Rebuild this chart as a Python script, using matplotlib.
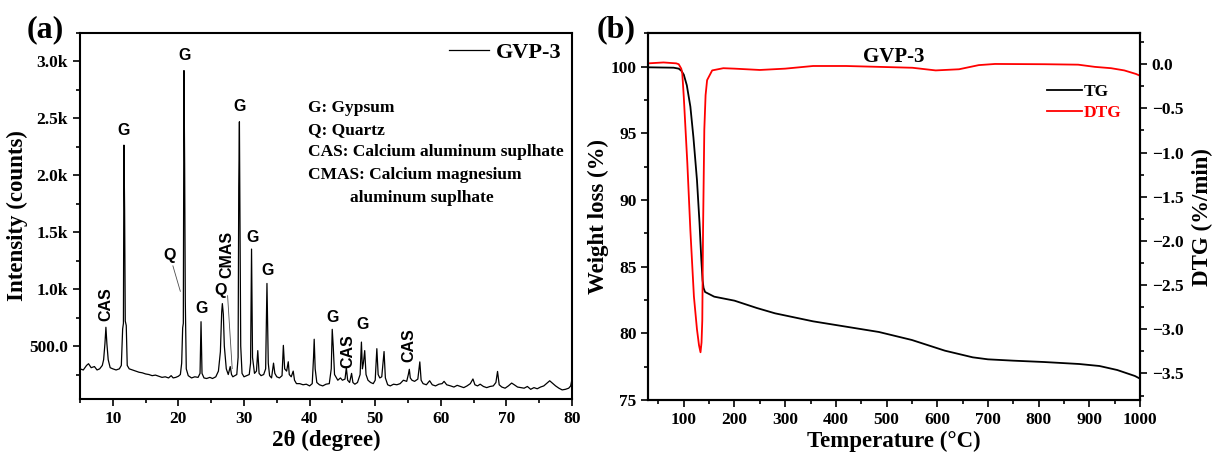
import matplotlib
matplotlib.use('Agg')
import matplotlib.pyplot as plt
from matplotlib.ticker import MultipleLocator, FuncFormatter

plt.rcParams['font.family'] = ['Liberation Serif', 'DejaVu Serif']
plt.rcParams['font.weight'] = 'bold'
plt.rcParams['mathtext.default'] = 'regular'

# XRD pattern of GVP-3 (2theta in degree, intensity in counts)
two_theta = [5.0, 5.5, 6.0, 6.3, 6.7, 7.2, 7.6, 8.0, 8.4, 8.6, 8.8, 8.95, 9.1, 9.3, 9.6,
             10.0, 10.5, 11.0, 11.3, 11.5, 11.62, 11.7, 11.8, 11.9, 12.05, 12.2, 12.5,
             13.0, 13.5, 14.0, 14.5, 15.0, 15.5, 16.0, 16.5, 17.0, 17.5, 18.0, 18.5,
             18.9, 19.2, 19.6, 20.0, 20.3, 20.5, 20.65, 20.75, 20.85, 20.95, 21.05, 21.2,
             21.5, 22.0, 22.5, 23.0, 23.3, 23.45, 23.6, 23.9, 24.3, 24.8, 25.2, 25.7,
             26.1, 26.4, 26.6, 26.7, 26.85, 27.0, 27.3, 27.6, 27.9, 28.1, 28.3, 28.6,
             28.9, 29.1, 29.2, 29.3, 29.4, 29.5, 29.7, 30.0, 30.4, 30.8, 31.0, 31.15,
             31.3, 31.6, 31.9, 32.1, 32.3, 32.6, 33.0, 33.3, 33.5, 33.7, 33.9, 34.2,
             34.5, 34.7, 35.0, 35.4, 35.8, 36.0, 36.2, 36.5, 36.75, 36.9, 37.2, 37.5,
             37.7, 38.0, 38.5, 39.0, 39.5, 40.0, 40.4, 40.6, 40.7, 40.85, 41.1, 41.5,
             42.0, 42.5, 43.0, 43.3, 43.45, 43.6, 43.8, 44.0, 44.3, 44.7, 45.0, 45.4,
             45.6, 45.8, 46.1, 46.4, 46.6, 46.9, 47.3, 47.7, 47.9, 48.05, 48.2, 48.4,
             48.6, 48.9, 49.3, 49.7, 50.0, 50.25, 50.45, 50.7, 51.0, 51.35, 51.55, 51.9,
             52.3, 52.8, 53.3, 53.8, 54.3, 54.8, 55.05, 55.2, 55.35, 55.6, 56.0, 56.5,
             56.8, 57.0, 57.3, 57.8, 58.3, 58.7, 59.2, 59.7, 60.2, 60.5, 60.9, 61.5,
             62.0, 62.5, 63.0, 63.5, 64.0, 64.5, 64.9, 65.2, 65.6, 66.0, 66.5, 67.0,
             67.5, 68.0, 68.4, 68.65, 68.9, 69.3, 69.8, 70.3, 70.8, 71.2, 71.7, 72.2,
             72.7, 73.2, 73.7, 74.2, 74.7, 75.2, 75.7, 76.2, 76.6, 77.0, 77.5, 78.0,
             78.5, 79.0, 79.5, 79.8, 80.0]
counts = [300, 290, 330, 345, 310, 320, 290, 300, 330, 380, 520, 665, 520, 380, 310,
          300, 290, 300, 330, 650, 700, 2265, 1700, 720, 680, 330, 300,
          290, 280, 270, 265, 255, 250, 240, 245, 235, 225, 230, 220,
          240, 220, 225, 235, 250, 350, 660, 700, 2920, 2100, 900, 300,
          240, 220, 230, 225, 260, 714, 260, 220, 215, 225, 215, 230,
          280, 450, 800, 873, 780, 500, 300, 250, 320, 250, 230, 240,
          250, 400, 1900, 2470, 1500, 500, 260, 230, 240, 250, 350, 1352,
          400, 260, 280, 460, 260, 240, 250, 300, 1050, 350, 240, 220,
          350, 260, 230, 220, 240, 506, 300, 280, 362, 250, 230, 280,
          200, 170, 170, 160, 165, 150, 170, 400, 560, 300, 180, 160,
          150, 165, 170, 300, 647, 500, 250, 230, 200, 220, 200, 210,
          310, 200, 180, 260, 180, 165, 180, 250, 535, 300, 350, 460,
          250, 200, 180, 170, 200, 477, 250, 220, 230, 452, 220, 160,
          150, 165, 160, 170, 200, 190, 250, 296, 220, 200, 190, 210,
          361, 200, 170, 160, 195, 160, 150, 165, 170, 190, 160, 150,
          140, 155, 145, 135, 150, 170, 211, 160, 150, 165, 145, 135,
          145, 150, 180, 277, 160, 140, 130, 150, 175, 160, 140, 135,
          130, 145, 120, 135, 125, 140, 150, 175, 195, 175, 150, 130,
          115, 120, 130, 150, 210]

# phase labels: text, 2theta, counts (bottom of label), rotation
peak_labels = [('CAS', 8.9, 720, 90), ('G', 11.7, 2330, 0), ('G', 20.95, 2990, 0),
               ('G', 23.5, 760, 0), ('Q', 26.5, 920, 0), ('CMAS', 27.35, 1100, 90),
               ('G', 29.37, 2540, 0), ('G', 31.25, 1392, 0), ('G', 33.6, 1097, 0),
               ('G', 43.5, 685, 0), ('CAS', 45.8, 305, 90), ('G', 48.1, 620, 0),
               ('CAS', 55.1, 360, 90)]
phase_notes = ['G: Gypsum', 'Q: Quartz', 'CAS: Calcium aluminum suplhate',
               'CMAS: Calcium magnesium', 'aluminum suplhate']

# TG / DTG of GVP-3
tg_temp = [30, 80, 90, 95, 100, 106, 113, 119, 126, 131, 134.5, 137, 139, 142, 160, 200,
           244, 280, 330, 355, 420, 485, 550, 615, 670, 700, 750, 810, 880, 920, 955,
           990, 1000]
tg_weight = [99.95, 99.92, 99.85, 99.7, 99.4, 98.6, 97.0, 94.7, 91.5, 88.3, 85.6, 84.0,
             83.4, 83.1, 82.75, 82.45, 81.9, 81.5, 81.1, 80.9, 80.5, 80.1, 79.5, 78.7,
             78.2, 78.05, 77.95, 77.85, 77.7, 77.55, 77.25, 76.8, 76.6]
dtg_temp = [30, 60, 85, 90, 95, 97, 100, 107, 113, 120, 126, 130, 133, 135, 136.5, 138,
            140.5, 143, 146, 156, 178, 200, 250, 300, 355, 420, 486, 551, 597, 643, 682,
            714, 812, 878, 911, 943, 969, 992, 1000]
dtg_rate = [0.01, 0.02, 0.01, 0.0, -0.05, -0.10, -0.37, -1.12, -1.88, -2.63, -3.0, -3.18,
            -3.26, -3.15, -2.9, -1.88, -0.74, -0.35, -0.18, -0.07, -0.045, -0.05, -0.065,
            -0.05, -0.02, -0.02, -0.03, -0.04, -0.07, -0.057, -0.01, 0.003, 0.0, -0.005,
            -0.03, -0.045, -0.07, -0.11, -0.13]

W, H = 1214, 457
fig = plt.figure(figsize=(W / 100, H / 100), dpi=100)
ax1 = fig.add_axes([80 / W, (H - 399) / H, 492 / W, 366 / H])
ax2 = fig.add_axes([648.3 / W, (H - 400) / H, 491.7 / W, 366.7 / H])


def style_axis(ax):
    for sp in ax.spines.values():
        sp.set_linewidth(1.5)
    ax.tick_params(which='both', direction='out', width=1.2, labelsize=12.5)
    ax.tick_params(which='major', length=5)
    ax.tick_params(which='minor', length=3)
    for lab in ax.get_xticklabels() + ax.get_yticklabels():
        lab.set_fontweight('bold')


# ---- (a) XRD ----
ax1.plot(two_theta, counts, color='black', lw=0.9, label='GVP-3')
ax1.set_xlim(5, 80)
ax1.set_ylim(35, 3250)
ax1.xaxis.set_major_locator(MultipleLocator(10))
ax1.xaxis.set_minor_locator(MultipleLocator(5))
ax1.yaxis.set_major_locator(MultipleLocator(500))
ax1.yaxis.set_minor_locator(MultipleLocator(250))
ax1.yaxis.set_major_formatter(FuncFormatter(
    lambda v, p: '%.1f' % v if v < 1000 else '%.1fk' % (v / 1000)))
ax1.set_yticks([500, 1000, 1500, 2000, 2500, 3000])
style_axis(ax1)
ax1.set_xlabel('2θ (degree)', fontsize=16.5, fontweight='bold', labelpad=2)
ax1.set_ylabel('Intensity (counts)', fontsize=16.5, fontweight='bold', labelpad=1)
leg1 = ax1.legend(loc='upper right', bbox_to_anchor=(0.978, 0.975), frameon=False,
                  borderpad=0, borderaxespad=0, handlelength=1.8, handletextpad=0.3,
                  prop={'family': 'Liberation Serif', 'weight': 'bold', 'size': 16})
leg1.get_lines()[0].set_linewidth(0.9)

for txt, x, y, rot in peak_labels:
    ax1.text(x, y, txt, rotation=rot, ha='center', va='bottom', fontsize=11.5,
             fontweight='bold', family=['Liberation Sans', 'DejaVu Sans'])
ax1.annotate('Q', xy=(20.3, 980), xytext=(18.7, 1230), ha='center', va='bottom',
             fontsize=11.5, fontweight='bold', family=['Liberation Sans', 'DejaVu Sans'],
             arrowprops=dict(arrowstyle='-', lw=0.6, color='0.3', shrinkA=0, shrinkB=0))
ax1.plot([27.5, 28.2], [942, 302], color='0.3', lw=0.6)

note_y = [2594, 2399, 2201, 2004, 1804]
note_x = [39.7, 39.7, 39.7, 39.7, 46.1]
for txt, x, y in zip(phase_notes, note_x, note_y):
    ax1.text(x, y, txt, ha='left', va='center', fontsize=12.5, fontweight='bold')

# ---- (b) TG / DTG ----
ax2.plot(tg_temp, tg_weight, color='black', lw=1.3, label='TG')
ax2.set_xlim(30, 1000)
ax2.set_ylim(75, 102.5)
ax2.xaxis.set_major_locator(MultipleLocator(100))
ax2.xaxis.set_minor_locator(MultipleLocator(50))
ax2.yaxis.set_major_locator(MultipleLocator(5))
ax2.yaxis.set_minor_locator(MultipleLocator(2.5))
ax2.set_xticks(range(100, 1001, 100))
ax2.set_yticks([75, 80, 85, 90, 95, 100])
style_axis(ax2)
ax2.set_xlabel('Temperature (°C)', fontsize=16.5, fontweight='bold', labelpad=2)
ax2.set_ylabel('Weight loss (%)', fontsize=16.5, fontweight='bold', labelpad=1)

ax3 = ax2.twinx()
ax3.plot(dtg_temp, dtg_rate, color='red', lw=1.3, label='DTG')
ax3.set_ylim(-3.8, 0.35)
ax3.yaxis.set_major_locator(MultipleLocator(0.5))
ax3.yaxis.set_minor_locator(MultipleLocator(0.25))
ax3.set_yticks([-3.5, -3.0, -2.5, -2.0, -1.5, -1.0, -0.5, 0.0])
style_axis(ax3)
ax3.set_ylabel('DTG (%/min)', fontsize=16.5, fontweight='bold', labelpad=6)

ax2.text(0.5, 0.935, 'GVP-3', transform=ax2.transAxes, ha='center', va='center',
         fontsize=15, fontweight='bold')
handles = ax2.get_lines() + ax3.get_lines()
leg2 = ax3.legend(handles, [h.get_label() for h in handles], loc='upper right',
                  bbox_to_anchor=(0.962, 0.862), frameon=False, borderpad=0,
                  borderaxespad=0, handlelength=2.0, handletextpad=0.1, labelspacing=0.3,
                  prop={'family': 'Liberation Serif', 'weight': 'bold', 'size': 12.5})
leg2.get_texts()[1].set_color('red')

fig.text(45 / W, 1 - 30 / H, '(a)', ha='center', va='center', fontsize=23,
         fontweight='bold')
fig.text(616 / W, 1 - 30 / H, '(b)', ha='center', va='center', fontsize=23,
         fontweight='bold')

fig.savefig('out.png', dpi=100)
plt.close()
